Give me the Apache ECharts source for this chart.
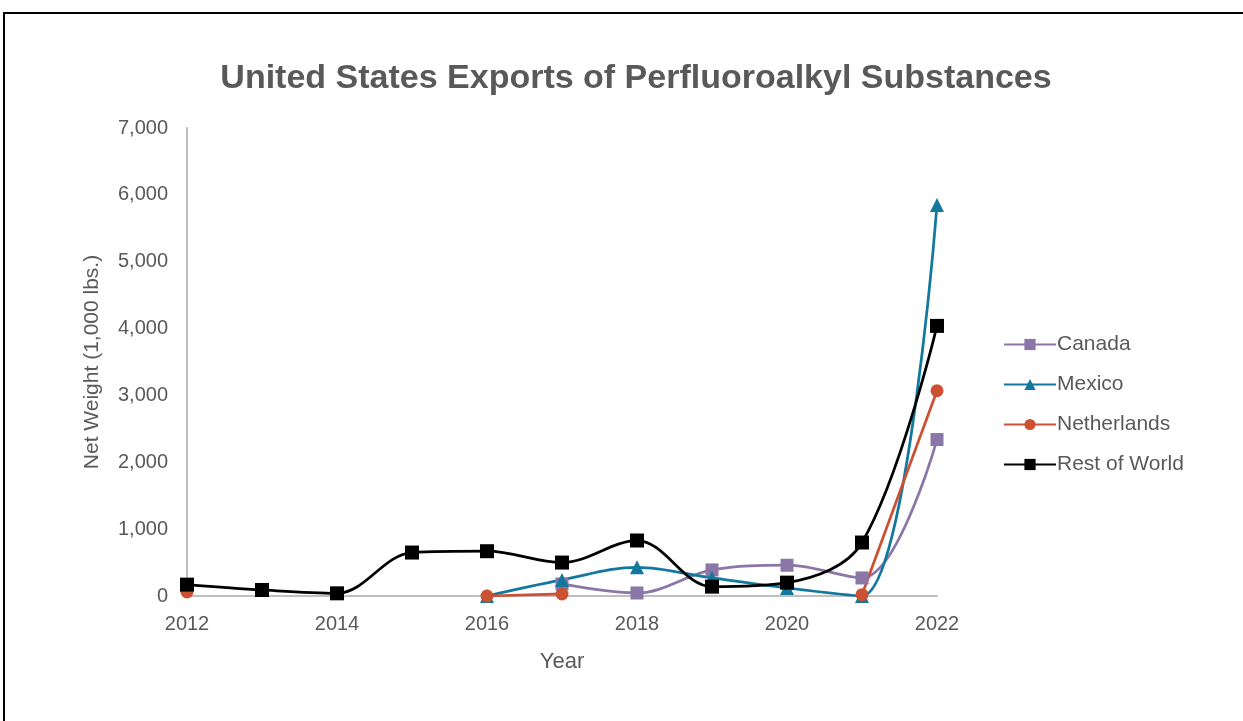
<!DOCTYPE html>
<html><head><meta charset="utf-8">
<script src="https://cdn.jsdelivr.net/npm/echarts@6/dist/echarts.min.js"></script>
<style>html,body{margin:0;padding:0;background:#fff}#c{width:1243px;height:721px}</style>
</head><body><div id="c"></div>
<script>
const years = [2012,2013,2014,2015,2016,2017,2018,2019,2020,2021,2022];
const canada = [null,null,null,null,null,180,45,390,460,270,2340];
const mexico = [null,null,null,null,0,240,430,270,120,0,5850];
const netherlands = [60,null,null,null,0,30,null,null,null,20,3070];
const restOfWorld = [170,90,40,650,670,500,830,140,200,800,4040];
const seriesNames = ['Canada','Mexico','Netherlands','Rest of World'];
const yTicks = {min:0,max:7000,interval:1000};
const xTicks = {min:2012,max:2022,interval:2};

const pairs = arr => years.map((y,i)=>[y,arr[i]]);
const txt = '#595959';
const font = 'Liberation Sans, Arial, sans-serif';
function mk(name, data, color, symbol, size){
  return {name, type:'line', data:pairs(data), smooth:0.35, connectNulls:false,
    symbol, symbolSize:size, showSymbol:true, clip:true,
    lineStyle:{color, width:2.75}, itemStyle:{color, borderWidth:0}, emphasis:{disabled:true}};
}
const chart = echarts.init(document.getElementById('c'), null, {renderer:'canvas'});
chart.setOption({
  animation:false,
  backgroundColor:'#fff',
  graphic:[{type:'rect', shape:{x:4,y:13,width:1300,height:800}, style:{fill:'none', stroke:'#000', lineWidth:2}}],
  title:{text:'United States Exports of Perfluoroalkyl Substances', left:631, textAlign:'center', top:57,
    textStyle:{color:txt, fontSize:34, fontWeight:'bold', fontFamily:font}},
  legend:{orient:'vertical', left:998, top:329, itemWidth:52, itemHeight:14, itemGap:19,
    data:seriesNames, textStyle:{color:txt, fontSize:21, fontFamily:font, padding:[0,0,0,-4]}},
  grid:{left:187, right:306, top:128, bottom:125},
  xAxis:{type:'value', min:xTicks.min, max:xTicks.max, interval:xTicks.interval,
    name:'Year', nameLocation:'middle', nameGap:55, nameTextStyle:{color:txt, fontSize:22, fontFamily:font},
    axisLine:{show:true, onZero:false, lineStyle:{color:'#bfbfbf', width:2}},
    axisTick:{show:false}, splitLine:{show:false},
    axisLabel:{color:txt, fontSize:20, fontFamily:font, margin:18, formatter:v=>String(v)}},
  yAxis:{type:'value', min:yTicks.min, max:yTicks.max, interval:yTicks.interval,
    name:'Net Weight (1,000 lbs.)', nameLocation:'middle', nameGap:84, nameRotate:90,
    nameTextStyle:{color:txt, fontSize:21, fontFamily:font},
    axisLine:{show:true, lineStyle:{color:'#bfbfbf', width:2}}, axisTick:{show:false}, splitLine:{show:false},
    axisLabel:{color:txt, fontSize:20, fontFamily:font, margin:19,
      formatter:v=>v.toLocaleString('en-US')}},
  series:[
    mk('Canada', canada, '#8b76a8', 'rect', 13),
    mk('Mexico', mexico, '#13789e', 'triangle', 14),
    mk('Netherlands', netherlands, '#cb5132', 'circle', 13),
    mk('Rest of World', restOfWorld, '#000000', 'rect', 14)
  ]
});
</script></body></html>
